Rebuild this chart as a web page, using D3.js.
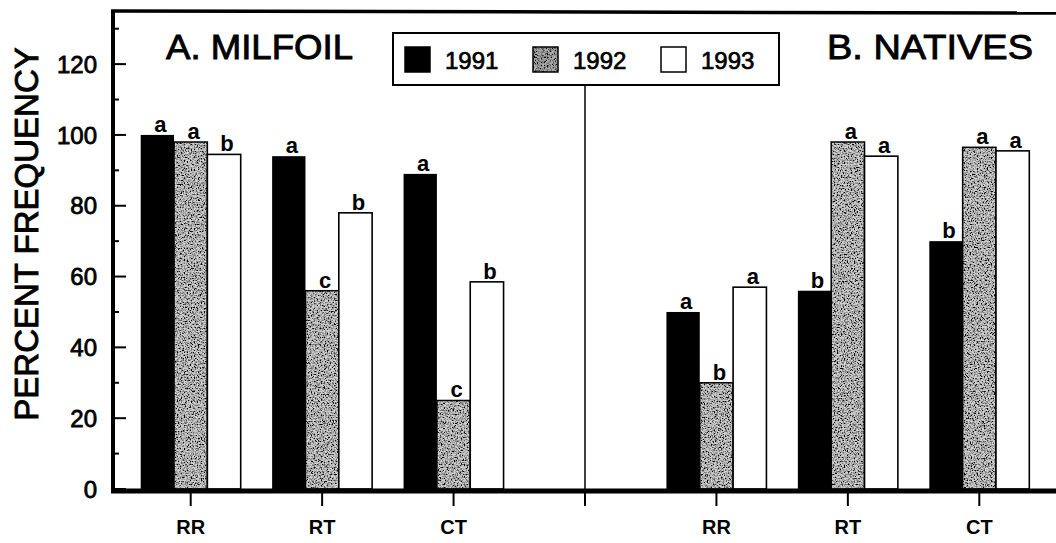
<!DOCTYPE html>
<html>
<head>
<meta charset="utf-8">
<script src="https://cdn.jsdelivr.net/npm/d3@7"></script>
<style>
  body { margin: 0; background: #fff; }
  svg { display: block; font-family: "Liberation Sans", Arial, Helvetica, sans-serif; }
</style>
</head>
<body>
<div id="chart"></div>
<script>
// categories
var sites = ["RR", "RT", "CT"];
var years = ["1991", "1992", "1993"];
var panelTitles = ["A. MILFOIL", "B. NATIVES"];

// percent frequency per site, one value per year
var milfoil = [[100, 98, 94.5], [94, 56, 78], [89, 25, 58.5]];
var milfoilLetters = [["a", "a", "b"], ["a", "c", "b"], ["a", "c", "b"]];
var natives = [[50, 30, 57], [56, 98, 94], [70, 96.5, 95.5]];
var nativesLetters = [["a", "b", "a"], ["b", "a", "a"], ["b", "a", "a"]];

var yMajor = [0, 20, 40, 60, 80, 100, 120];
var yMinor = [10, 30, 50, 70, 90, 110, 130];

var W = 1056, H = 543;
var svg = d3.select("#chart").append("svg")
    .attr("width", W).attr("height", H);

// stipple texture for the 1992 bars
var defs = svg.append("defs");
var f = defs.append("filter").attr("id", "stip")
    .attr("x", 0).attr("y", 0).attr("width", 1).attr("height", 1);
f.append("feTurbulence").attr("type", "fractalNoise")
    .attr("baseFrequency", 0.7).attr("numOctaves", 3).attr("seed", 7).attr("result", "n");
f.append("feColorMatrix").attr("in", "n").attr("type", "matrix")
    .attr("values", "0 0 0 0 0  0 0 0 0 0  0 0 0 0 0  3.4 0 0 0 -1.35").attr("result", "dots");
f.append("feComposite").attr("in", "dots").attr("in2", "SourceGraphic").attr("operator", "over").attr("result", "mix");
f.append("feComposite").attr("in", "mix").attr("in2", "SourceAlpha").attr("operator", "in");

// slot keys: three sites, a gap, three sites
var slots = ["A-RR", "A-RT", "A-CT", "gap", "B-RR", "B-RT", "B-CT"];
var x0 = d3.scalePoint().domain(slots).range([190.7, 979.3]);
var x1 = d3.scaleBand().domain(years).range([-50, 50]);
var y = d3.scaleLinear().domain([0, 135]).range([489, 11]);

var axisX = 113;

// y axis ticks (inside)
svg.append("g").selectAll("line.maj").data(yMajor).join("line")
    .attr("x1", axisX).attr("x2", axisX + 13)
    .attr("y1", function (d) { return y(d); }).attr("y2", function (d) { return y(d); })
    .attr("stroke", "#000").attr("stroke-width", 2);
svg.append("g").selectAll("line.min").data(yMinor).join("line")
    .attr("x1", axisX).attr("x2", axisX + 6)
    .attr("y1", function (d) { return y(d); }).attr("y2", function (d) { return y(d); })
    .attr("stroke", "#000").attr("stroke-width", 2);
svg.append("g").selectAll("text").data(yMajor).join("text")
    .attr("x", 97).attr("y", function (d) { return y(d); })
    .attr("dy", "0.36em")
    .attr("text-anchor", "end")
    .attr("font-size", 24)
    .attr("stroke", "#000").attr("stroke-width", 0.8)
    .text(function (d) { return d; });

// y axis title
svg.append("text")
    .attr("transform", "translate(38,234) rotate(-90)")
    .attr("text-anchor", "middle")
    .attr("font-size", 33)
    .attr("stroke", "#000").attr("stroke-width", 0.9)
    .text("PERCENT FREQUENCY");

// bars
function drawPanel(prefix, values, letters) {
    var g = svg.append("g");
    sites.forEach(function (s, i) {
        var cx = x0(prefix + "-" + s);
        years.forEach(function (yr, j) {
            var v = values[i][j];
            var bx = cx + x1(yr), bw = x1.bandwidth();
            if (j === 0) {
                g.append("rect").attr("x", bx).attr("y", y(v))
                    .attr("width", bw).attr("height", y(0) - y(v)).attr("fill", "#000");
            } else if (j === 1) {
                g.append("rect").attr("x", bx).attr("y", y(v))
                    .attr("width", bw).attr("height", y(0) - y(v))
                    .attr("fill", "#d2d2d2").attr("filter", "url(#stip)");
                g.append("rect").attr("x", bx).attr("y", y(v))
                    .attr("width", bw).attr("height", y(0) - y(v))
                    .attr("fill", "none").attr("stroke", "#000").attr("stroke-width", 1.5);
            } else {
                g.append("rect").attr("x", bx).attr("y", y(v))
                    .attr("width", bw).attr("height", y(0) - y(v))
                    .attr("fill", "#fff").attr("stroke", "#000").attr("stroke-width", 1.6);
            }
            g.append("text")
                .attr("x", bx + bw / 2 + 3).attr("y", y(v) - 3)
                .attr("text-anchor", "middle")
                .attr("font-size", 22).attr("font-weight", "bold")
                .text(letters[i][j]);
        });
    });
}
drawPanel("A", milfoil, milfoilLetters);
drawPanel("B", natives, nativesLetters);

// frame: left axis, top line, bottom axis
svg.append("line").attr("x1", axisX).attr("x2", axisX)
    .attr("y1", y(135)).attr("y2", y(0) + 4)
    .attr("stroke", "#000").attr("stroke-width", 4);
svg.append("line").attr("x1", axisX - 2).attr("x2", W)
    .attr("y1", y(135)).attr("y2", y(135) + 2)
    .attr("stroke", "#000").attr("stroke-width", 3.5);
svg.append("line").attr("x1", axisX - 2).attr("x2", W)
    .attr("y1", y(0) + 2).attr("y2", y(0) + 2)
    .attr("stroke", "#000").attr("stroke-width", 5);

// x ticks and labels
svg.append("g").selectAll("line").data(slots).join("line")
    .attr("x1", function (d) { return x0(d); }).attr("x2", function (d) { return x0(d); })
    .attr("y1", y(0) + 4).attr("y2", 506)
    .attr("stroke", "#000").attr("stroke-width", 2);
svg.append("g").selectAll("text").data(slots.filter(function (d) { return d !== "gap"; })).join("text")
    .attr("x", function (d) { return x0(d); }).attr("y", 534)
    .attr("text-anchor", "middle")
    .attr("font-size", 20).attr("font-weight", "bold")
    .text(function (d) { return d.split("-")[1]; });

// legend
var lg = svg.append("g");
var legendTop = 33, legendBottom = 85;
lg.append("rect").attr("x", 393).attr("y", legendTop)
    .attr("width", 386).attr("height", legendBottom - legendTop)
    .attr("fill", "#fff").attr("stroke", "#000").attr("stroke-width", 2);
var lx = d3.scaleOrdinal().domain(years).range([405, 533, 661]);
years.forEach(function (yr, j) {
    var sx = lx(yr);
    if (j === 1) {
        lg.append("rect").attr("x", sx).attr("y", 47).attr("width", 25).attr("height", 25)
            .attr("fill", "#b0b0b0").attr("filter", "url(#stip)");
        lg.append("rect").attr("x", sx).attr("y", 47).attr("width", 25).attr("height", 25)
            .attr("fill", "none").attr("stroke", "#000").attr("stroke-width", 1.5);
    } else {
        lg.append("rect").attr("x", sx).attr("y", 47).attr("width", 25).attr("height", 25)
            .attr("fill", j === 0 ? "#000" : "#fff").attr("stroke", "#000").attr("stroke-width", 1.5);
    }
    lg.append("text").attr("x", sx + 40).attr("y", 69)
        .attr("font-size", 24)
        .attr("stroke", "#000").attr("stroke-width", 0.7)
        .text(yr);
});

// divider between panels
svg.append("line").attr("x1", x0("gap")).attr("x2", x0("gap"))
    .attr("y1", legendBottom + 1).attr("y2", y(0))
    .attr("stroke", "#000").attr("stroke-width", 1.5);

// panel titles
svg.append("text").attr("x", 166).attr("y", 59)
    .attr("font-size", 35).attr("textLength", 187).attr("lengthAdjust", "spacingAndGlyphs")
    .attr("stroke", "#000").attr("stroke-width", 0.9)
    .text(panelTitles[0]);
svg.append("text").attr("x", 827).attr("y", 59)
    .attr("font-size", 35).attr("textLength", 206).attr("lengthAdjust", "spacingAndGlyphs")
    .attr("stroke", "#000").attr("stroke-width", 0.9)
    .text(panelTitles[1]);
</script>
</body>
</html>
